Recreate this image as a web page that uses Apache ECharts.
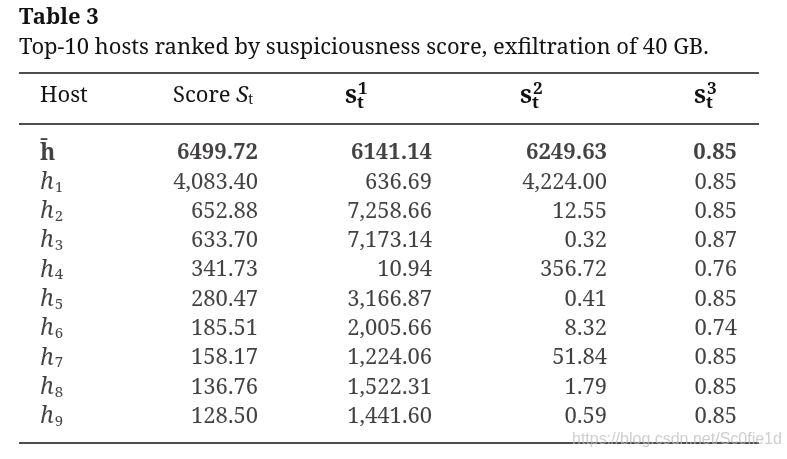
<!DOCTYPE html>
<html><head><meta charset="utf-8">
<script src="https://cdn.jsdelivr.net/npm/echarts@6/dist/echarts.min.js"></script>
<style>html,body{margin:0;padding:0;background:#fff}#c{width:787px;height:459px}</style>
</head><body><div id="c"></div>
<script>
// ---- data ----
const hosts = ['h\u0304', 'h1', 'h2', 'h3', 'h4', 'h5', 'h6', 'h7', 'h8', 'h9'];
const scoreSt = [6499.72, 4083.40, 652.88, 633.70, 341.73, 280.47, 185.51, 158.17, 136.76, 128.50];
const s1 = [6141.14, 636.69, 7258.66, 7173.14, 10.94, 3166.87, 2005.66, 1224.06, 1522.31, 1441.60];
const s2 = [6249.63, 4224.00, 12.55, 0.32, 356.72, 0.41, 8.32, 51.84, 1.79, 0.59];
const s3 = [0.85, 0.85, 0.85, 0.87, 0.76, 0.85, 0.74, 0.85, 0.85, 0.85];
const headers = ['Host', 'Score ', 's', 's', 's'];
const titleText = 'Table 3';
const captionText = 'Top-10 hosts ranked by suspiciousness score, exfiltration of 40 GB.';

// ---- layout ----
const W = 787, H = 459;
const FONT = '"Noto Serif", "DejaVu Serif", serif';
const INK = '#141213';
const FS = 22;
const colX = { host: 40, score: 258, s1: 432, s2: 607, s3: 737 };
const ruleL = 19, ruleR = 759;

function fmt(v, i) {
  return v.toLocaleString('en-US', { minimumFractionDigits: 2, maximumFractionDigits: 2, useGrouping: i !== 0 });
}
function numSeries(values, x) {
  return {
    type: 'scatter', symbolSize: 0, silent: true,
    data: values.map((v, i) => [x, i, v]),
    label: {
      show: true, position: [0, 0], align: 'right', verticalAlign: 'middle',
      color: INK, fontFamily: FONT, fontSize: FS,
      formatter: p => p.dataIndex === 0 ? '{b|' + fmt(p.value[2], 0) + '}' : fmt(p.value[2], p.dataIndex),
      rich: { b: { fontWeight: 'bold', fontFamily: FONT, fontSize: FS, color: INK } }
    }
  };
}
const hostSeries = {
  type: 'scatter', symbolSize: 0, silent: true,
  data: hosts.map((h, i) => [colX.host, i, h]),
  label: {
    show: true, position: [0, 0], align: 'left', verticalAlign: 'middle',
    color: INK, fontFamily: FONT, fontSize: FS,
    formatter: p => {
      const h = p.value[2];
      if (h.length === 2 && /\d/.test(h[1])) return '{i|' + h[0] + '}{sub|' + h[1] + '}';
      return '{b|' + h + '}';
    },
    rich: {
      i: { fontStyle: 'italic', fontFamily: FONT, fontSize: 23, color: INK },
      sub: { fontFamily: FONT, fontSize: 15, color: INK, padding: [10, 0, 0, 1] },
      b: { fontWeight: 'bold', fontFamily: FONT, fontSize: 23, color: INK }
    }
  }
};

function sHeader(xLeft, sup) {
  return {
    type: 'group', x: xLeft, y: 96,
    children: [
      { type: 'text', x: 0, y: 0, style: { text: 's', font: 'bold 25px ' + FONT, fill: INK, verticalAlign: 'middle' } },
      { type: 'text', x: 12, y: 7, style: { text: 't', font: 'bold 17px ' + FONT, fill: INK, verticalAlign: 'middle' } },
      { type: 'text', x: 13, y: -7, style: { text: sup, font: 'bold 17px ' + FONT, fill: INK, verticalAlign: 'middle' } }
    ]
  };
}
function rule(y) {
  return { type: 'line', shape: { x1: ruleL, y1: y, x2: ruleR, y2: y }, style: { stroke: INK, lineWidth: 1.6 } };
}

const chart = echarts.init(document.getElementById('c'), null, { renderer: 'canvas' });
chart.setOption({
  animation: false,
  backgroundColor: '#fff',
  grid: { left: 0, right: 0, top: 138.35, bottom: 27.65 },
  xAxis: { type: 'value', min: 0, max: W, show: false },
  yAxis: { type: 'category', data: hosts, inverse: true, show: false },
  series: [hostSeries, numSeries(scoreSt, colX.score), numSeries(s1, colX.s1), numSeries(s2, colX.s2), numSeries(s3, colX.s3)],
  graphic: [
    { type: 'text', x: 19, y: 18, style: { text: titleText, font: 'bold 22px ' + FONT, fill: INK, verticalAlign: 'middle' } },
    { type: 'text', x: 19, y: 48, style: { text: captionText, font: FS + 'px ' + FONT, fill: INK, verticalAlign: 'middle' } },
    rule(73), rule(124), rule(443),
    { type: 'text', x: 40, y: 96, style: { text: headers[0], font: FS + 'px ' + FONT, fill: INK, verticalAlign: 'middle' } },
    { type: 'text', x: 173, y: 96, style: { text: headers[1] + '{S|S}{sub|t}', font: FS + 'px ' + FONT, fill: INK, verticalAlign: 'middle',
        rich: { S: { fontFamily: FONT, fontSize: FS, fontStyle: 'italic', fill: INK }, sub: { fontFamily: FONT, fontSize: 14, fill: INK, padding: [9, 0, 0, 0] } } } },
    sHeader(345, '1'), sHeader(520, '2'), sHeader(694, '3'),
    { type: 'text', x: 572, y: 440, style: { text: 'https://blog.csdn.net/Sc0fie1d', font: '16px "Liberation Sans", Arial, sans-serif', fill: 'rgba(190,190,190,0.75)', verticalAlign: 'middle' } }
  ]
});
</script>
</body></html>
